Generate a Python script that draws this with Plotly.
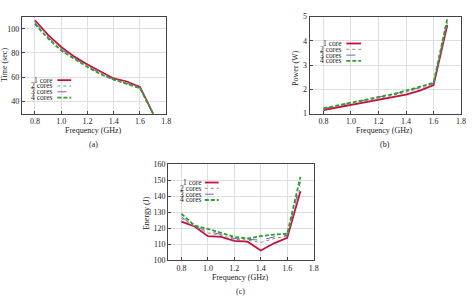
import plotly.graph_objects as go

freq = [0.8, 0.9, 1.0, 1.1, 1.2, 1.3, 1.4, 1.5, 1.6, 1.7]
series_names = ["1 core", "2 cores", "3 cores", "4 cores"]

time_1 = [107, 95, 85, 77, 70.5, 64.5, 59, 56.5, 52, 30]
time_2 = [106, 94, 84, 76, 69.5, 63.5, 58.5, 55.5, 51.5, 30]
time_3 = [105, 93, 83, 75.5, 69, 63, 58, 55, 51, 30]
time_4 = [104, 92, 82, 75, 68.5, 62.5, 58, 54.5, 51, 30]

power_1 = [1.15, 1.25, 1.35, 1.45, 1.55, 1.68, 1.78, 1.95, 2.18, 4.65]
power_2 = [1.18, 1.3, 1.4, 1.52, 1.62, 1.75, 1.88, 2.05, 2.22, 4.75]
power_3 = [1.2, 1.32, 1.43, 1.55, 1.65, 1.78, 1.92, 2.08, 2.25, 4.85]
power_4 = [1.22, 1.34, 1.45, 1.57, 1.67, 1.8, 1.95, 2.1, 2.27, 4.92]

energy_1 = [124, 121, 115, 114.5, 112, 111.5, 106, 110.5, 114, 143]
energy_2 = [126, 121, 117, 115.5, 113, 112.5, 111, 113.5, 115, 146]
energy_3 = [127, 121, 118, 116, 113.5, 113, 112.5, 114.5, 115.5, 149]
energy_4 = [129, 121.5, 119.5, 117, 114.5, 113.5, 115, 116, 116.5, 152]

x_ticks = [0.8, 1.0, 1.2, 1.4, 1.6, 1.8]
time_ticks = [40, 60, 80, 100]
power_ticks = [1, 2, 3, 4, 5]
energy_ticks = [100, 110, 120, 130, 140, 150, 160]

W, H = 474, 302
FONT = "Liberation Serif"
styles = [
    dict(color="#c8103c", width=1.8, dash="solid"),
    dict(color="#8c8c8c", width=1.0, dash="dot"),
    dict(color="#6a6ab8", width=1.0, dash="dash"),
    dict(color="#2e9e2e", width=1.8, dash="4px,2px"),
]

fig = go.Figure()

def px(x):
    return x / W

def py(y):
    return 1 - y / H

panels = [
    ("x", "y", [time_1, time_2, time_3, time_4]),
    ("x2", "y2", [power_1, power_2, power_3, power_4]),
    ("x3", "y3", [energy_1, energy_2, energy_3, energy_4]),
]
for xa, ya, data in panels:
    for name, vals, st in zip(series_names, data, styles):
        fig.add_trace(go.Scatter(x=freq, y=vals, mode="lines", name=name,
                                 line=st, xaxis=xa, yaxis=ya, showlegend=False,
                                 cliponaxis=True))

axis_common = dict(showline=True, mirror=True, linecolor="#444", linewidth=1,
                   showgrid=True, gridcolor="#dedede", gridwidth=1,
                   ticks="inside", ticklen=3, tickcolor="#444",
                   tickfont=dict(family=FONT, size=8, color="#222"), zeroline=False)

xax = dict(range=[0.7, 1.8], tickvals=x_ticks, tickformat=".1f", **axis_common)

fig.update_layout(
    width=W, height=H, margin=dict(l=0, r=0, t=0, b=0),
    paper_bgcolor="white", plot_bgcolor="white", showlegend=False,
    xaxis=dict(domain=[px(22), px(168)], anchor="y", **xax),
    yaxis=dict(domain=[py(113), py(13)], anchor="x", range=[30, 110], tickvals=time_ticks, **axis_common),
    xaxis2=dict(domain=[px(313), px(466)], anchor="y2", **xax),
    yaxis2=dict(domain=[py(113), py(13)], anchor="x2", range=[1, 5], tickvals=power_ticks, **axis_common),
    xaxis3=dict(domain=[px(170), px(317)], anchor="y3", **xax),
    yaxis3=dict(domain=[py(264), py(165)], anchor="x3", range=[100, 160], tickvals=energy_ticks, **axis_common),
)

ann = []
def text(x, y, s, size=8, angle=0, xanchor="center"):
    ann.append(dict(x=px(x), y=py(y), xref="paper", yref="paper", text=s, showarrow=False,
                    textangle=angle, xanchor=xanchor, yanchor="middle", borderpad=0,
                    font=dict(family=FONT, size=size, color="#222")))

# axis titles and captions
text(95, 130, "Frequency (GHz)")
text(95, 145, "(a)")
text(389, 130, "Frequency (GHz)")
text(389, 145, "(b)")
text(243, 282, "Frequency (GHz)")
text(243, 296, "(c)")
text(4, 63, "Time (sec)", angle=-90)
text(298, 66, "Power (W)", angle=-90)
text(148, 215, "Energy (J)", angle=-90)

# legends (gnuplot style: text then sample)
shapes = []
legends = [
    (55, 58, 72, [78.5, 84.5, 90.5, 96.5]),
    (347, 350, 365, [40.7, 46.7, 52.7, 58.7]),
    (205, 207, 221, [184, 190, 196, 202]),
]
for tx, sx0, sx1, ys in legends:
    for name, st, yy in zip(series_names, styles, ys):
        text(tx, yy, name, size=7.5, xanchor="right")
        shapes.append(dict(type="line", xref="paper", yref="paper",
                           x0=px(sx0), x1=px(sx1), y0=py(yy), y1=py(yy),
                           line=dict(color=st["color"], width=st["width"], dash=st["dash"])))

fig.update_layout(annotations=ann, shapes=shapes)
fig.write_html("out.html")
